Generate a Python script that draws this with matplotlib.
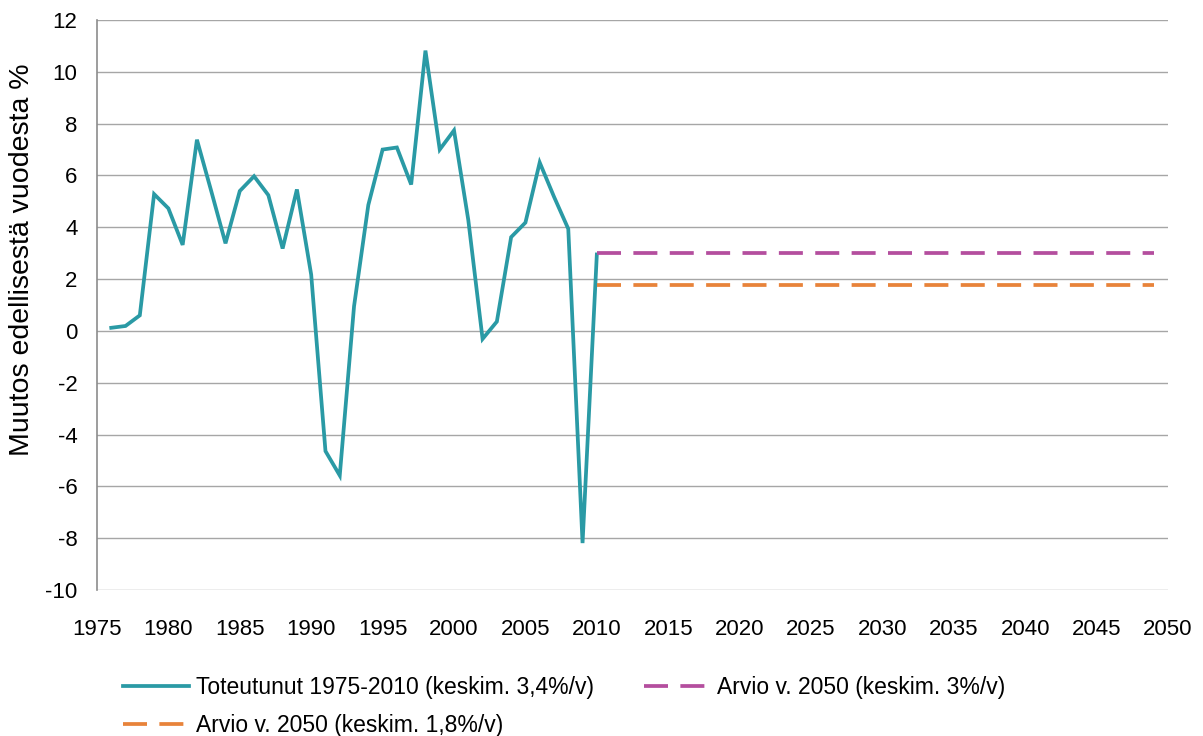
import matplotlib
matplotlib.use("Agg")
import matplotlib.pyplot as plt

plt.rcParams['font.family'] = ['Liberation Sans', 'DejaVu Sans']
plt.rcParams['axes.unicode_minus'] = False

years_actual = list(range(1976, 2011))
growth_actual = [0.12, 0.19, 0.6, 5.28, 4.73, 3.32, 7.38, 5.4, 3.38, 5.4,
                 5.97, 5.24, 3.18, 5.46, 2.17, -4.64, -5.58, 0.95, 4.86, 7.0,
                 7.08, 5.65, 10.82, 7.0, 7.74, 4.28, -0.31, 0.36, 3.62, 4.18,
                 6.5, 5.18, 3.94, -8.19, 2.95]
years_forecast = list(range(2010, 2050))
forecast_high = [3.0] * len(years_forecast)
forecast_low = [1.76] * len(years_forecast)

label_actual = "Toteutunut 1975-2010 (keskim. 3,4%/v)"
label_high = "Arvio v. 2050 (keskim. 3%/v)"
label_low = "Arvio v. 2050 (keskim. 1,8%/v)"
ylabel = "Muutos edellisestä vuodesta %"
xticks = list(range(1975, 2051, 5))
yticks = list(range(-10, 13, 2))

c_actual = '#2A9AA5'
c_high = '#B44E9E'
c_low = '#E8833A'

fig = plt.figure(figsize=(12.03, 7.36), dpi=100)
ax = fig.add_axes([0.0806, 0.1984, 0.8904, 0.7744])

dash = (0, (6.4, 3.3))
h_act, = ax.plot(years_actual, growth_actual, color=c_actual, lw=2.7, label=label_actual,
                 solid_joinstyle='miter')
h_high, = ax.plot(years_forecast, forecast_high, color=c_high, lw=2.7, ls=dash, label=label_high)
h_low, = ax.plot(years_forecast, forecast_low, color=c_low, lw=2.7, ls=dash, label=label_low)

ax.set_xlim(1975, 2050)
ax.set_ylim(-10, 12)
ax.set_xticks(xticks)
ax.set_yticks(yticks)
ax.grid(axis='y', color='#A6A6A6', lw=1.0)
ax.set_axisbelow(True)
for s in ['top', 'right', 'bottom']:
    ax.spines[s].set_visible(False)
ax.spines['left'].set_color('#8C8C8C')
ax.spines['left'].set_linewidth(1.2)
ax.tick_params(axis='y', length=0, labelsize=16, pad=14)
ax.tick_params(axis='x', length=0, labelsize=16, pad=21)
ax.set_ylabel(ylabel, fontsize=20.5)
ax.yaxis.set_label_coords(-0.058, 0.579)

leg = fig.legend([h_act, h_low, h_high], [label_actual, label_low, label_high],
                 loc='upper left', bbox_to_anchor=(0.102, 0.081), ncol=2,
                 frameon=False, fontsize=16.5, handlelength=2.9, handletextpad=0.28,
                 columnspacing=2.2, labelspacing=0.62, borderpad=0, borderaxespad=0)

fig.savefig('out.png', dpi=100)
